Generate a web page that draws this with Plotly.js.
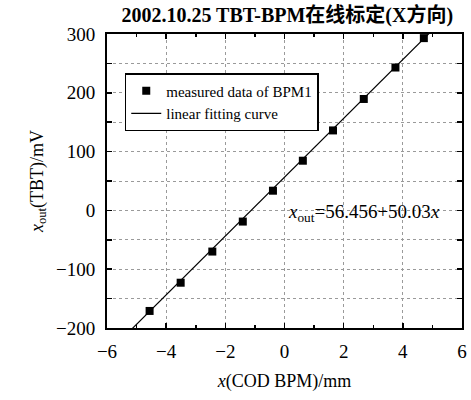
<!DOCTYPE html>
<html>
<head>
<meta charset="utf-8">
<script src="https://cdn.plot.ly/plotly-3.0.1.min.js"></script>
<style>html,body{margin:0;padding:0;background:#fff;}#chart{width:471px;height:400px;}</style>
</head>
<body>
<div id="chart"></div>
<script>
const measX = [-4.56, -3.51, -2.44, -1.41, -0.39, 0.62, 1.64, 2.68, 3.75, 4.71];
const measY = [-171, -123, -70, -19, 33.5, 84.5, 136, 189.5, 243, 293];
const fitX = [-6, 6];
const fitY = [-243.72, 356.64];
const xTickVals = [-6, -4, -2, 0, 2, 4, 6];
const xTickText = ['\u22126', '\u22124', '\u22122', '0', '2', '4', '6'];
const yTickVals = [-200, -100, 0, 100, 200, 300];
const yTickText = ['\u2212200', '\u2212100', '0', '100', '200', '300'];

const serif = '"Liberation Serif", "DejaVu Serif", serif';
const traces = [
  {x: measX, y: measY, mode: 'markers', type: 'scatter', name: 'measured data of BPM1',
   marker: {symbol: 'square', size: 8, color: '#000'}},
  {x: fitX, y: fitY, mode: 'lines', type: 'scatter', name: 'linear fitting curve',
   line: {color: '#000', width: 1.2}}
];
const axisCommon = {
  showline: true, linecolor: '#000', linewidth: 2, mirror: 'allticks',
  ticks: 'inside', ticklen: 5, tickwidth: 1.5, tickcolor: '#000',
  showgrid: true, gridcolor: '#9a9a9a', griddash: 'dot', gridwidth: 1,
  zeroline: false, tickfont: {family: serif, size: 19, color: '#000'},
  tickmode: 'array'
};
const layout = {
  width: 471, height: 400,
  margin: {l: 107, r: 9, t: 34, b: 72},
  paper_bgcolor: '#fff', plot_bgcolor: '#fff',
  showlegend: true,
  title: {text: '<b>2002.10.25 TBT-BPM在线标定(X方向)</b>', x: 0.61, xanchor: 'center', y: 0.962, yanchor: 'middle',
          font: {family: '"Liberation Serif", "Noto Sans CJK SC", serif', size: 20, color: '#000'}},
  xaxis: Object.assign({}, axisCommon, {
    range: [-6, 6], tickvals: xTickVals, ticktext: xTickText, ticklabelstandoff: 5,
    minor: {dtick: 1, ticks: 'inside', ticklen: 3, tickcolor: '#000', showgrid: false},
    title: {text: '<i>x</i>(COD BPM)/mm', font: {family: serif, size: 18, color: '#000'}, standoff: 14}
  }),
  yaxis: Object.assign({}, axisCommon, {
    range: [-200, 300], tickvals: yTickVals, ticktext: yTickText, ticklabelstandoff: 6,
    minor: {dtick: 50, ticks: 'inside', ticklen: 5, tickcolor: '#000', showgrid: true,
            gridcolor: '#9a9a9a', griddash: 'dot', gridwidth: 1},
    title: {text: '<i>x</i><sub>out</sub>(TBT)/mV', font: {family: serif, size: 18, color: '#000'}, standoff: 8}
  }),
  legend: {x: 0.05, y: 0.867, xanchor: 'left', yanchor: 'top', bgcolor: '#fff',
           bordercolor: '#000', borderwidth: 1.5, tracegroupgap: 0, itemwidth: 30,
           font: {family: serif, size: 15, color: '#000'}},
  annotations: [{x: 2.7, y: -4.5, xref: 'x', yref: 'y', showarrow: false, xanchor: 'center', yanchor: 'middle',
    text: '<i>x</i><sub>out</sub>=56.456+50.03<i>x</i>', font: {family: serif, size: 19, color: '#000'}}]
};
Plotly.newPlot('chart', traces, layout, {displayModeBar: false, staticPlot: true});
</script>
</body>
</html>
